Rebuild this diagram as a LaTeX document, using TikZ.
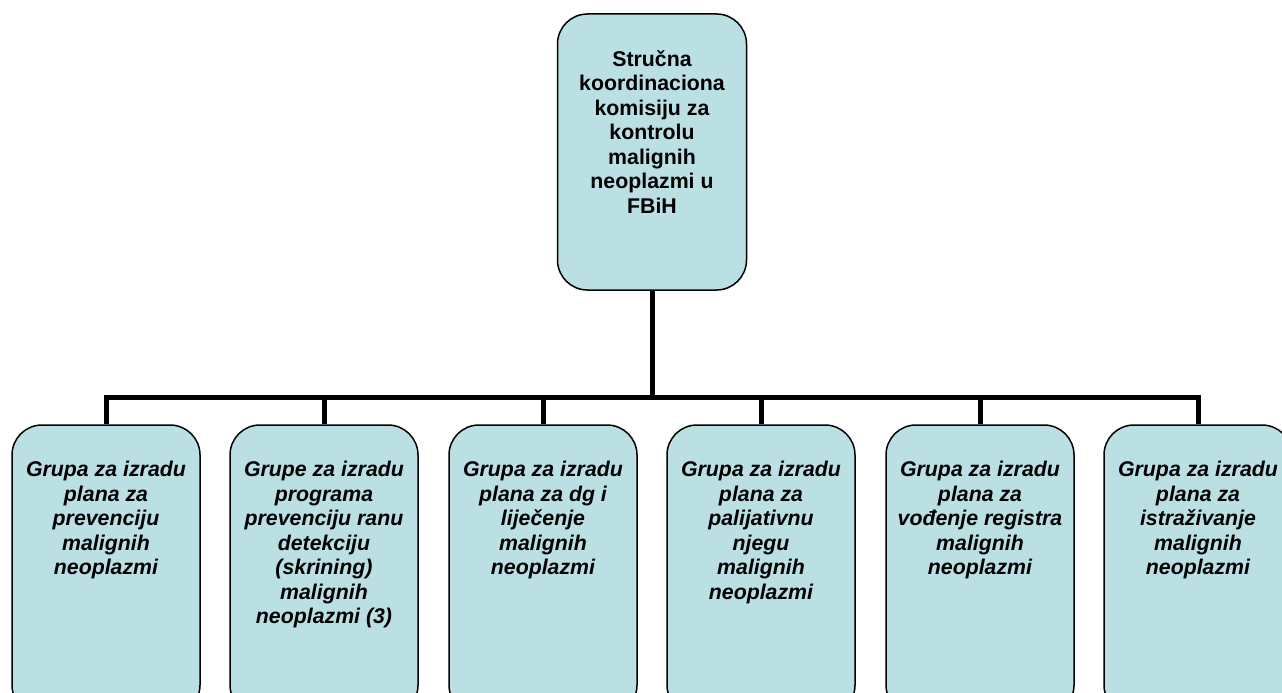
\documentclass[tikz,border=0pt]{standalone}
\usepackage{fontspec}
\setmainfont{Liberation Sans}
\definecolor{boxfill}{HTML}{BBE0E3}
\begin{document}
\begin{tikzpicture}[x=1pt,y=-1pt,
  orgbox/.style={draw=black, line width=1.5pt, fill=boxfill, rounded corners=30pt, inner sep=0pt},
  toptext/.style={anchor=north, align=center, font=\fontsize{21.3}{24.5}\selectfont\bfseries, inner sep=0pt},
  subtext/.style={anchor=north, align=center, font=\fontsize{21.3}{24.5}\selectfont\bfseries\itshape, inner sep=0pt},
  link/.style={line width=5pt}]
\path[use as bounding box, clip] (0,0) rectangle (1282,693);
\fill[white] (0,0) rectangle (1282,693);
% top box
\node[orgbox, minimum width=189pt, minimum height=276pt] (top) at (652,152) {};
\node[toptext] (toptxt) at ([yshift=-37pt]top.north) {Stručna\\koordinaciona\\komisiju za\\kontrolu\\malignih\\neoplazmi u\\FBiH};
% bottom boxes
\foreach \i/\cx in {1/106,2/324,3/543,4/761,5/980,6/1198}{
  \node[orgbox, minimum width=188pt, minimum height=290pt] (b\i) at (\cx,570) {};
}
\node[subtext] (t1) at ([yshift=-37pt]b1.north) {Grupa za izradu\\plana za\\prevenciju\\malignih\\neoplazmi};
\node[subtext] (t2) at ([yshift=-37pt]b2.north) {Grupe za izradu\\programa\\prevenciju ranu\\detekciju\\(skrining)\\malignih\\neoplazmi (3)};
\node[subtext] (t3) at ([yshift=-37pt]b3.north) {Grupa za izradu\\plana za dg i\\liječenje\\malignih\\neoplazmi};
\node[subtext] (t4) at ([yshift=-37pt]b4.north) {Grupa za izradu\\plana za\\palijativnu\\njegu\\malignih\\neoplazmi};
\node[subtext] (t5) at ([yshift=-37pt]b5.north) {Grupa za izradu\\plana za\\vođenje registra\\malignih\\neoplazmi};
\node[subtext] (t6) at ([yshift=-37pt]b6.north) {Grupa za izradu\\plana za\\istraživanje\\malignih\\neoplazmi};
% connectors
\coordinate (bus) at (652,397);
\draw[link] (top.south) -- (bus);
\draw[link] (b1.north) |- (bus) -| (b6.north);
\foreach \i in {2,3,4,5}{
  \draw[link] (b\i.north) -- (b\i.north |- bus);
}
\end{tikzpicture}
\end{document}
